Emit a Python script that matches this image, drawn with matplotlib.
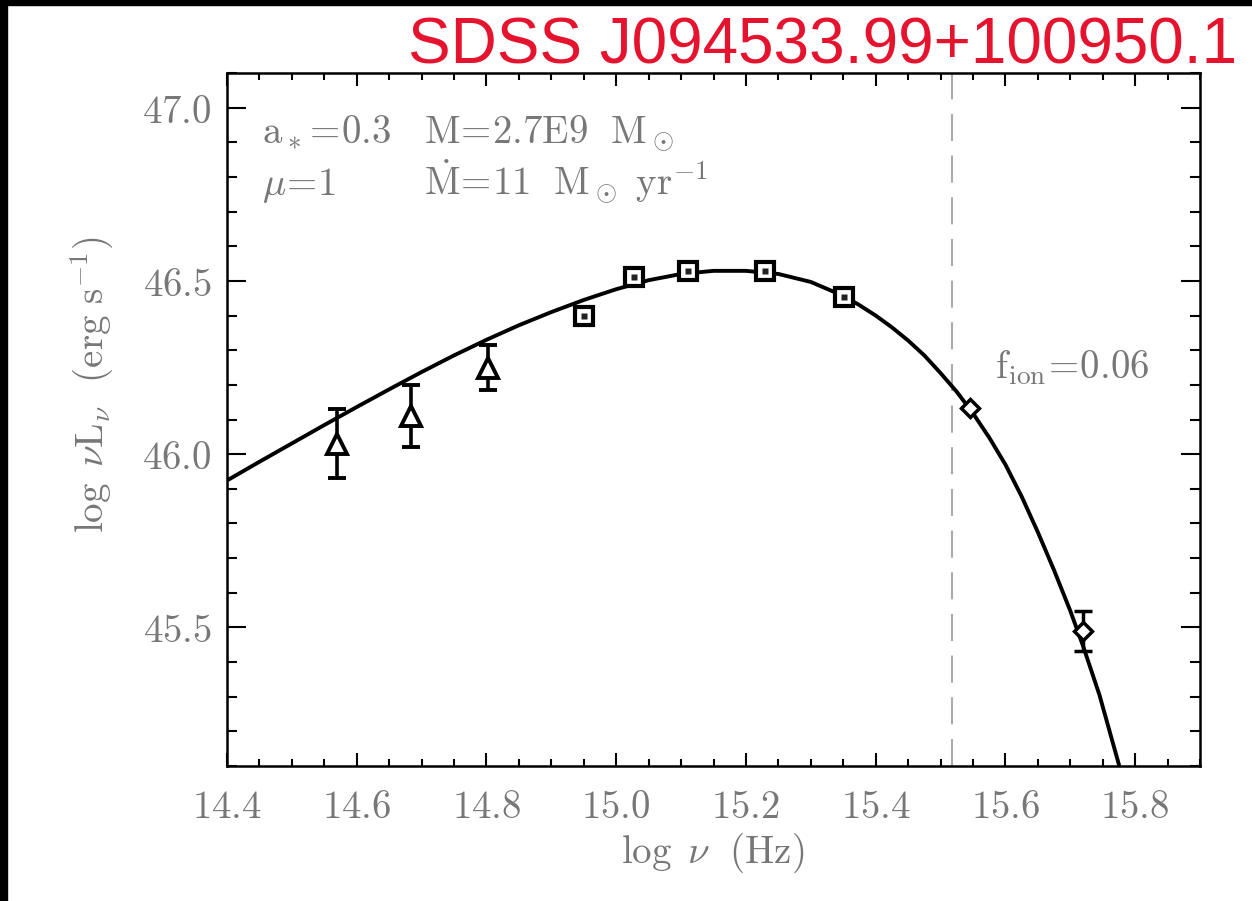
import numpy as np
import matplotlib
matplotlib.use('Agg')
import matplotlib.pyplot as plt
from matplotlib.patches import Rectangle
from matplotlib.ticker import MultipleLocator, FuncFormatter

plt.rcParams['mathtext.fontset'] = 'cm'

# photometry
tri_x = [14.569, 14.684, 14.802]
tri_y = [46.03, 46.11, 46.25]
tri_err = [0.10, 0.09, 0.065]

sq_x = [14.950, 15.027, 15.110, 15.229, 15.351]
sq_y = [46.398, 46.511, 46.528, 46.528, 46.453]

dia_x = [15.545, 15.720]
dia_y = [46.132, 45.489]
dia_err = [0.0, 0.058]

# model curve, points
model_x = [14.40, 14.45, 14.50, 14.55, 14.60, 14.65, 14.70, 14.75, 14.80,
           14.85, 14.90, 14.95, 15.00, 15.05, 15.10, 15.15, 15.20, 15.25,
           15.30, 15.35, 15.375, 15.40, 15.425, 15.45, 15.475, 15.50, 15.525,
           15.55, 15.575, 15.60, 15.625, 15.65, 15.675, 15.70, 15.72, 15.745,
           15.775]
model_y = [45.924, 45.978, 46.031, 46.084, 46.136, 46.187, 46.237, 46.285, 46.330,
           46.372, 46.410, 46.445, 46.476, 46.502, 46.520, 46.529, 46.529, 46.520,
           46.497, 46.457, 46.430, 46.400, 46.366, 46.328, 46.285, 46.234, 46.180,
           46.118, 46.048, 45.970, 45.878, 45.775, 45.665, 45.548, 45.445, 45.305,
           45.104]

lyman_edge = 15.517
gray = '#777777'
fs = 28

fig = plt.figure(figsize=(12.52, 9.01), dpi=100)
ax = fig.add_axes([227/1252, 1-766/901, (1200-227)/1252, (766-73)/901])

ax.plot(model_x, model_y, color='black', lw=2.8, zorder=3, solid_joinstyle='round')
ax.axvline(lyman_edge, color='#aaaaaa', lw=1.5, dashes=(13, 7), zorder=1)

ax.errorbar(tri_x, tri_y, yerr=tri_err, fmt='^', ms=14, mfc='white', mec='black',
            mew=2.8, ecolor='black', elinewidth=2.6, capsize=6.5, capthick=2.8, zorder=4)
ax.plot(sq_x, sq_y, 's', ms=12.5, mfc='white', mec='black', mew=3, zorder=4)
ax.plot(sq_x, sq_y, 's', ms=4.5, mfc='#222222', mec='none', zorder=5)
ax.errorbar(dia_x, dia_y, yerr=dia_err, fmt='D', ms=9, mfc='white', mec='black',
            mew=2.5, ecolor='black', elinewidth=2.5, capsize=6.5, capthick=2.5, zorder=4)

ax.set_xlim(14.4, 15.9)
ax.set_ylim(45.1, 47.1)
ax.xaxis.set_major_locator(MultipleLocator(0.2))
ax.xaxis.set_minor_locator(MultipleLocator(0.05))
ax.yaxis.set_major_locator(MultipleLocator(0.5))
ax.yaxis.set_minor_locator(MultipleLocator(0.1))
fmt = FuncFormatter(lambda v, p: r'$%.1f$' % v)
ax.xaxis.set_major_formatter(fmt)
ax.yaxis.set_major_formatter(fmt)

ax.tick_params(which='both', direction='in', top=True, right=True, width=1.5,
               color='black', labelcolor=gray, labelsize=fs)
ax.tick_params(axis='x', which='major', length=9.5, pad=16)
ax.tick_params(axis='x', which='minor', length=5)
ax.tick_params(axis='y', which='major', length=14, pad=11)
ax.tick_params(axis='y', which='minor', length=7)
for s in ax.spines.values():
    s.set_linewidth(1.8)

fig.text(713/1252, 1-853/901, r'$\log\ \nu\ \ (\mathrm{Hz})$', color=gray,
         fontsize=fs, ha='center', va='center')
fig.text(92/1252, 1-385/901, r'$\log\ \nu \mathrm{L}_\nu\ \ (\mathrm{erg\ s}^{-1})$',
         color=gray, fontsize=fs, ha='center', va='center', rotation=90)

ax.text(262/1252, 1-143/901, r'$\mathrm{a}_*\!=\!0.3$', transform=fig.transFigure,
        color=gray, fontsize=fs, va='baseline')
ax.text(424/1252, 1-143/901, r'$\mathrm{M}\!=\!\mathrm{2.7E9\ \ M}_\odot$',
        transform=fig.transFigure, color=gray, fontsize=fs, va='baseline')
ax.text(262/1252, 1-195/901, r'$\mu\!=\!1$', transform=fig.transFigure,
        color=gray, fontsize=fs, va='baseline')
ax.text(424/1252, 1-195/901, r'$\dot{\mathrm{M}}\!=\!\mathrm{11\ \ M}_\odot\ \mathrm{yr}^{-1}$',
        transform=fig.transFigure, color=gray, fontsize=fs, va='baseline')
ax.text(995/1252, 1-378/901, r'$\mathrm{f}_\mathrm{ion}\!=\!0.06$', transform=fig.transFigure,
        color=gray, fontsize=fs, va='baseline')

fig.text(1237/1252, 1-63/901, 'SDSS J094533.99+100950.1', color='#E6132F',
         fontsize=46, family='Liberation Sans', ha='right', va='baseline')

# black frame strips at left and top edge
fig.patches.append(Rectangle((0, 0), 7/1252, 1, transform=fig.transFigure,
                             color='black', zorder=10))
fig.patches.append(Rectangle((0, 1-5/901), 1, 5/901, transform=fig.transFigure,
                             color='black', zorder=10))

fig.savefig('out.png', dpi=100)
